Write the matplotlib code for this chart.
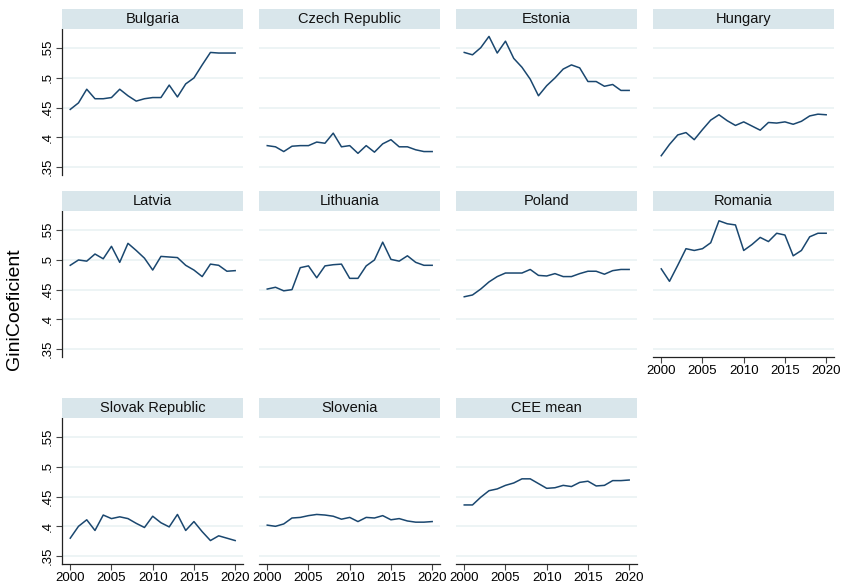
import matplotlib
matplotlib.use("Agg")
import matplotlib.pyplot as plt

plt.rcParams['font.family'] = ['Liberation Sans', 'DejaVu Sans']

years = list(range(2000, 2021))

countries = ['Bulgaria', 'Czech Republic', 'Estonia', 'Hungary',
             'Latvia', 'Lithuania', 'Poland', 'Romania',
             'Slovak Republic', 'Slovenia', 'CEE mean']

bulgaria = [0.447, 0.458, 0.481, 0.465, 0.465, 0.467, 0.481, 0.470, 0.461, 0.465, 0.467,
            0.467, 0.488, 0.468, 0.490, 0.500, 0.522, 0.543, 0.542, 0.542, 0.542]
czech = [0.386, 0.384, 0.376, 0.385, 0.386, 0.386, 0.392, 0.390, 0.407, 0.384, 0.386,
         0.373, 0.386, 0.375, 0.389, 0.396, 0.384, 0.384, 0.379, 0.376, 0.376]
estonia = [0.543, 0.539, 0.551, 0.570, 0.542, 0.562, 0.533, 0.518, 0.498, 0.470, 0.487,
           0.500, 0.515, 0.522, 0.517, 0.494, 0.494, 0.486, 0.489, 0.479, 0.479]
hungary = [0.369, 0.388, 0.404, 0.408, 0.396, 0.413, 0.429, 0.438, 0.428, 0.420, 0.426,
           0.419, 0.412, 0.425, 0.424, 0.426, 0.422, 0.427, 0.436, 0.439, 0.438]
latvia = [0.491, 0.500, 0.498, 0.510, 0.502, 0.523, 0.496, 0.528, 0.516, 0.503, 0.483,
          0.506, 0.505, 0.504, 0.491, 0.483, 0.472, 0.493, 0.491, 0.481, 0.482]
lithuania = [0.451, 0.454, 0.448, 0.450, 0.487, 0.490, 0.470, 0.490, 0.492, 0.493, 0.469,
             0.469, 0.490, 0.500, 0.530, 0.501, 0.498, 0.507, 0.496, 0.491, 0.491]
poland = [0.438, 0.441, 0.451, 0.463, 0.472, 0.478, 0.478, 0.478, 0.484, 0.474, 0.473,
          0.477, 0.472, 0.472, 0.477, 0.481, 0.481, 0.476, 0.482, 0.484, 0.484]
romania = [0.485, 0.464, 0.491, 0.519, 0.516, 0.519, 0.529, 0.566, 0.561, 0.559, 0.516,
           0.526, 0.538, 0.531, 0.545, 0.542, 0.507, 0.516, 0.539, 0.545, 0.545]
slovakia = [0.380, 0.400, 0.411, 0.393, 0.419, 0.413, 0.416, 0.413, 0.405, 0.398, 0.417,
            0.406, 0.399, 0.420, 0.393, 0.408, 0.391, 0.376, 0.384, 0.380, 0.376]
slovenia = [0.402, 0.400, 0.404, 0.414, 0.415, 0.418, 0.420, 0.419, 0.417, 0.412, 0.415,
            0.408, 0.415, 0.414, 0.418, 0.411, 0.413, 0.409, 0.407, 0.407, 0.408]
cee_mean = [0.436, 0.436, 0.449, 0.460, 0.463, 0.469, 0.473, 0.480, 0.480, 0.472, 0.464,
            0.465, 0.469, 0.467, 0.474, 0.476, 0.468, 0.469, 0.477, 0.477, 0.478]

series = [bulgaria, czech, estonia, hungary, latvia, lithuania, poland, romania,
          slovakia, slovenia, cee_mean]

y_ticks = [0.35, 0.4, 0.45, 0.5, 0.55]
y_labels = ['.35', '.4', '.45', '.5', '.55']
x_ticks = [2000, 2005, 2010, 2015, 2020]

W, H = 843, 587
fig = plt.figure(figsize=(W / 100, H / 100), dpi=100)

# panel geometry in pixels
col_left = [62, 259, 456, 653]
col_width = 181
row_top = [29, 211, 418]
plot_h = 146
strip_h = 20

line_color = '#1a476f'
grid_color = '#eaf2f3'
strip_color = '#d9e6eb'

for i, (name, vals) in enumerate(zip(countries, series)):
    r, c = divmod(i, 4)
    left = col_left[c]
    top = row_top[r]
    ax = fig.add_axes([left / W, 1 - (top + plot_h) / H, col_width / W, plot_h / H])
    ax.plot(years, vals, color=line_color, lw=1.1)
    ax.set_xlim(1999.0, 2020.95)
    ax.set_ylim(0.3365, 0.5825)
    ax.set_yticks(y_ticks)
    ax.set_xticks(x_ticks)
    ax.grid(axis='y', color=grid_color, lw=1.2)
    ax.set_axisbelow(True)
    for s in ['top', 'right']:
        ax.spines[s].set_visible(False)

    # y axis only on the first column
    if c == 0:
        ax.spines['left'].set_color('#222222')
        ax.spines['left'].set_linewidth(0.9)
        ax.set_yticklabels(y_labels, rotation=90, va='center', fontsize=9.5)
        ax.tick_params(axis='y', length=4, width=0.8, color='#444444', pad=2)
    else:
        ax.spines['left'].set_visible(False)
        ax.tick_params(axis='y', left=False, labelleft=False)

    # x axis only on the bottom panel of each column
    bottom = (r == 2) or (r == 1 and c == 3)
    if bottom:
        ax.spines['bottom'].set_color('#222222')
        ax.spines['bottom'].set_linewidth(0.9)
        ax.tick_params(axis='x', length=4, width=0.8, color='#444444', labelsize=9.5, pad=2)
    else:
        ax.spines['bottom'].set_visible(False)
        ax.tick_params(axis='x', bottom=False, labelbottom=False)

    # strip title
    sax = fig.add_axes([left / W, 1 - top / H, col_width / W, strip_h / H])
    sax.set_facecolor(strip_color)
    sax.set_xticks([])
    sax.set_yticks([])
    for s in sax.spines.values():
        s.set_visible(False)
    sax.text(0.5, 0.5, name, ha='center', va='center', fontsize=10.5, color='#111111',
             transform=sax.transAxes)

fig.text(15 / W, 1 - 309 / H, 'GiniCoeficient', rotation=90, ha='center', va='center',
         fontsize=14)

fig.savefig('out.png', dpi=100, facecolor='white')
